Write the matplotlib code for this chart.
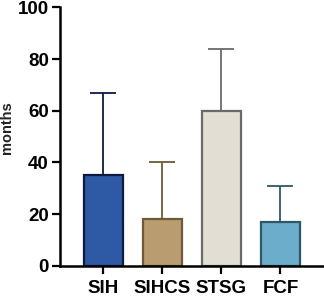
import matplotlib
matplotlib.use('Agg')
import matplotlib.pyplot as plt

groups = ['SIH', 'SIHCS', 'STSG', 'FCF']
means = [35, 18, 60, 17]
upper_err = [32, 22, 24, 14]

fill_colors = ['#2e59a5', '#b99c6f', '#e3ded3', '#6badcb']
edge_colors = ['#0e1a3f', '#6f5a38', '#6a6a68', '#2e5865']

plt.rcParams['font.family'] = ['Liberation Sans', 'DejaVu Sans']

fig = plt.figure(figsize=(3.24, 2.97), dpi=100)
ax = fig.add_axes([0.185, 0.105, 0.812, 0.87])

x = range(len(groups))
for i in x:
    ax.bar(i, means[i], width=0.66, color=fill_colors[i], edgecolor=edge_colors[i],
           linewidth=1.6, zorder=2)
    ax.errorbar(i, means[i], yerr=[[0], [upper_err[i]]], fmt='none',
                ecolor=edge_colors[i], elinewidth=1.3, capsize=9.5, capthick=1.3, zorder=1)

ax.set_xlim(-0.73, 3.72)
ax.set_ylim(0, 100)
ax.set_yticks([0, 20, 40, 60, 80, 100])
ax.set_xticks(list(x))
ax.set_xticklabels(groups, fontsize=13.5, fontweight='bold')
for lab in ax.get_yticklabels():
    lab.set_fontsize(13.5)
    lab.set_fontweight('bold')
ax.set_ylabel('months', fontsize=10.5, fontweight='bold', color='#222222')
ax.yaxis.set_label_coords(-0.175, 0.533)

for s in ['top', 'right']:
    ax.spines[s].set_visible(False)
for s in ['left', 'bottom']:
    ax.spines[s].set_linewidth(1.8)
ax.tick_params(axis='both', width=1.6, length=6)
ax.tick_params(axis='y', pad=2)
ax.tick_params(axis='x', pad=4)

fig.savefig('out.png', dpi=100)
